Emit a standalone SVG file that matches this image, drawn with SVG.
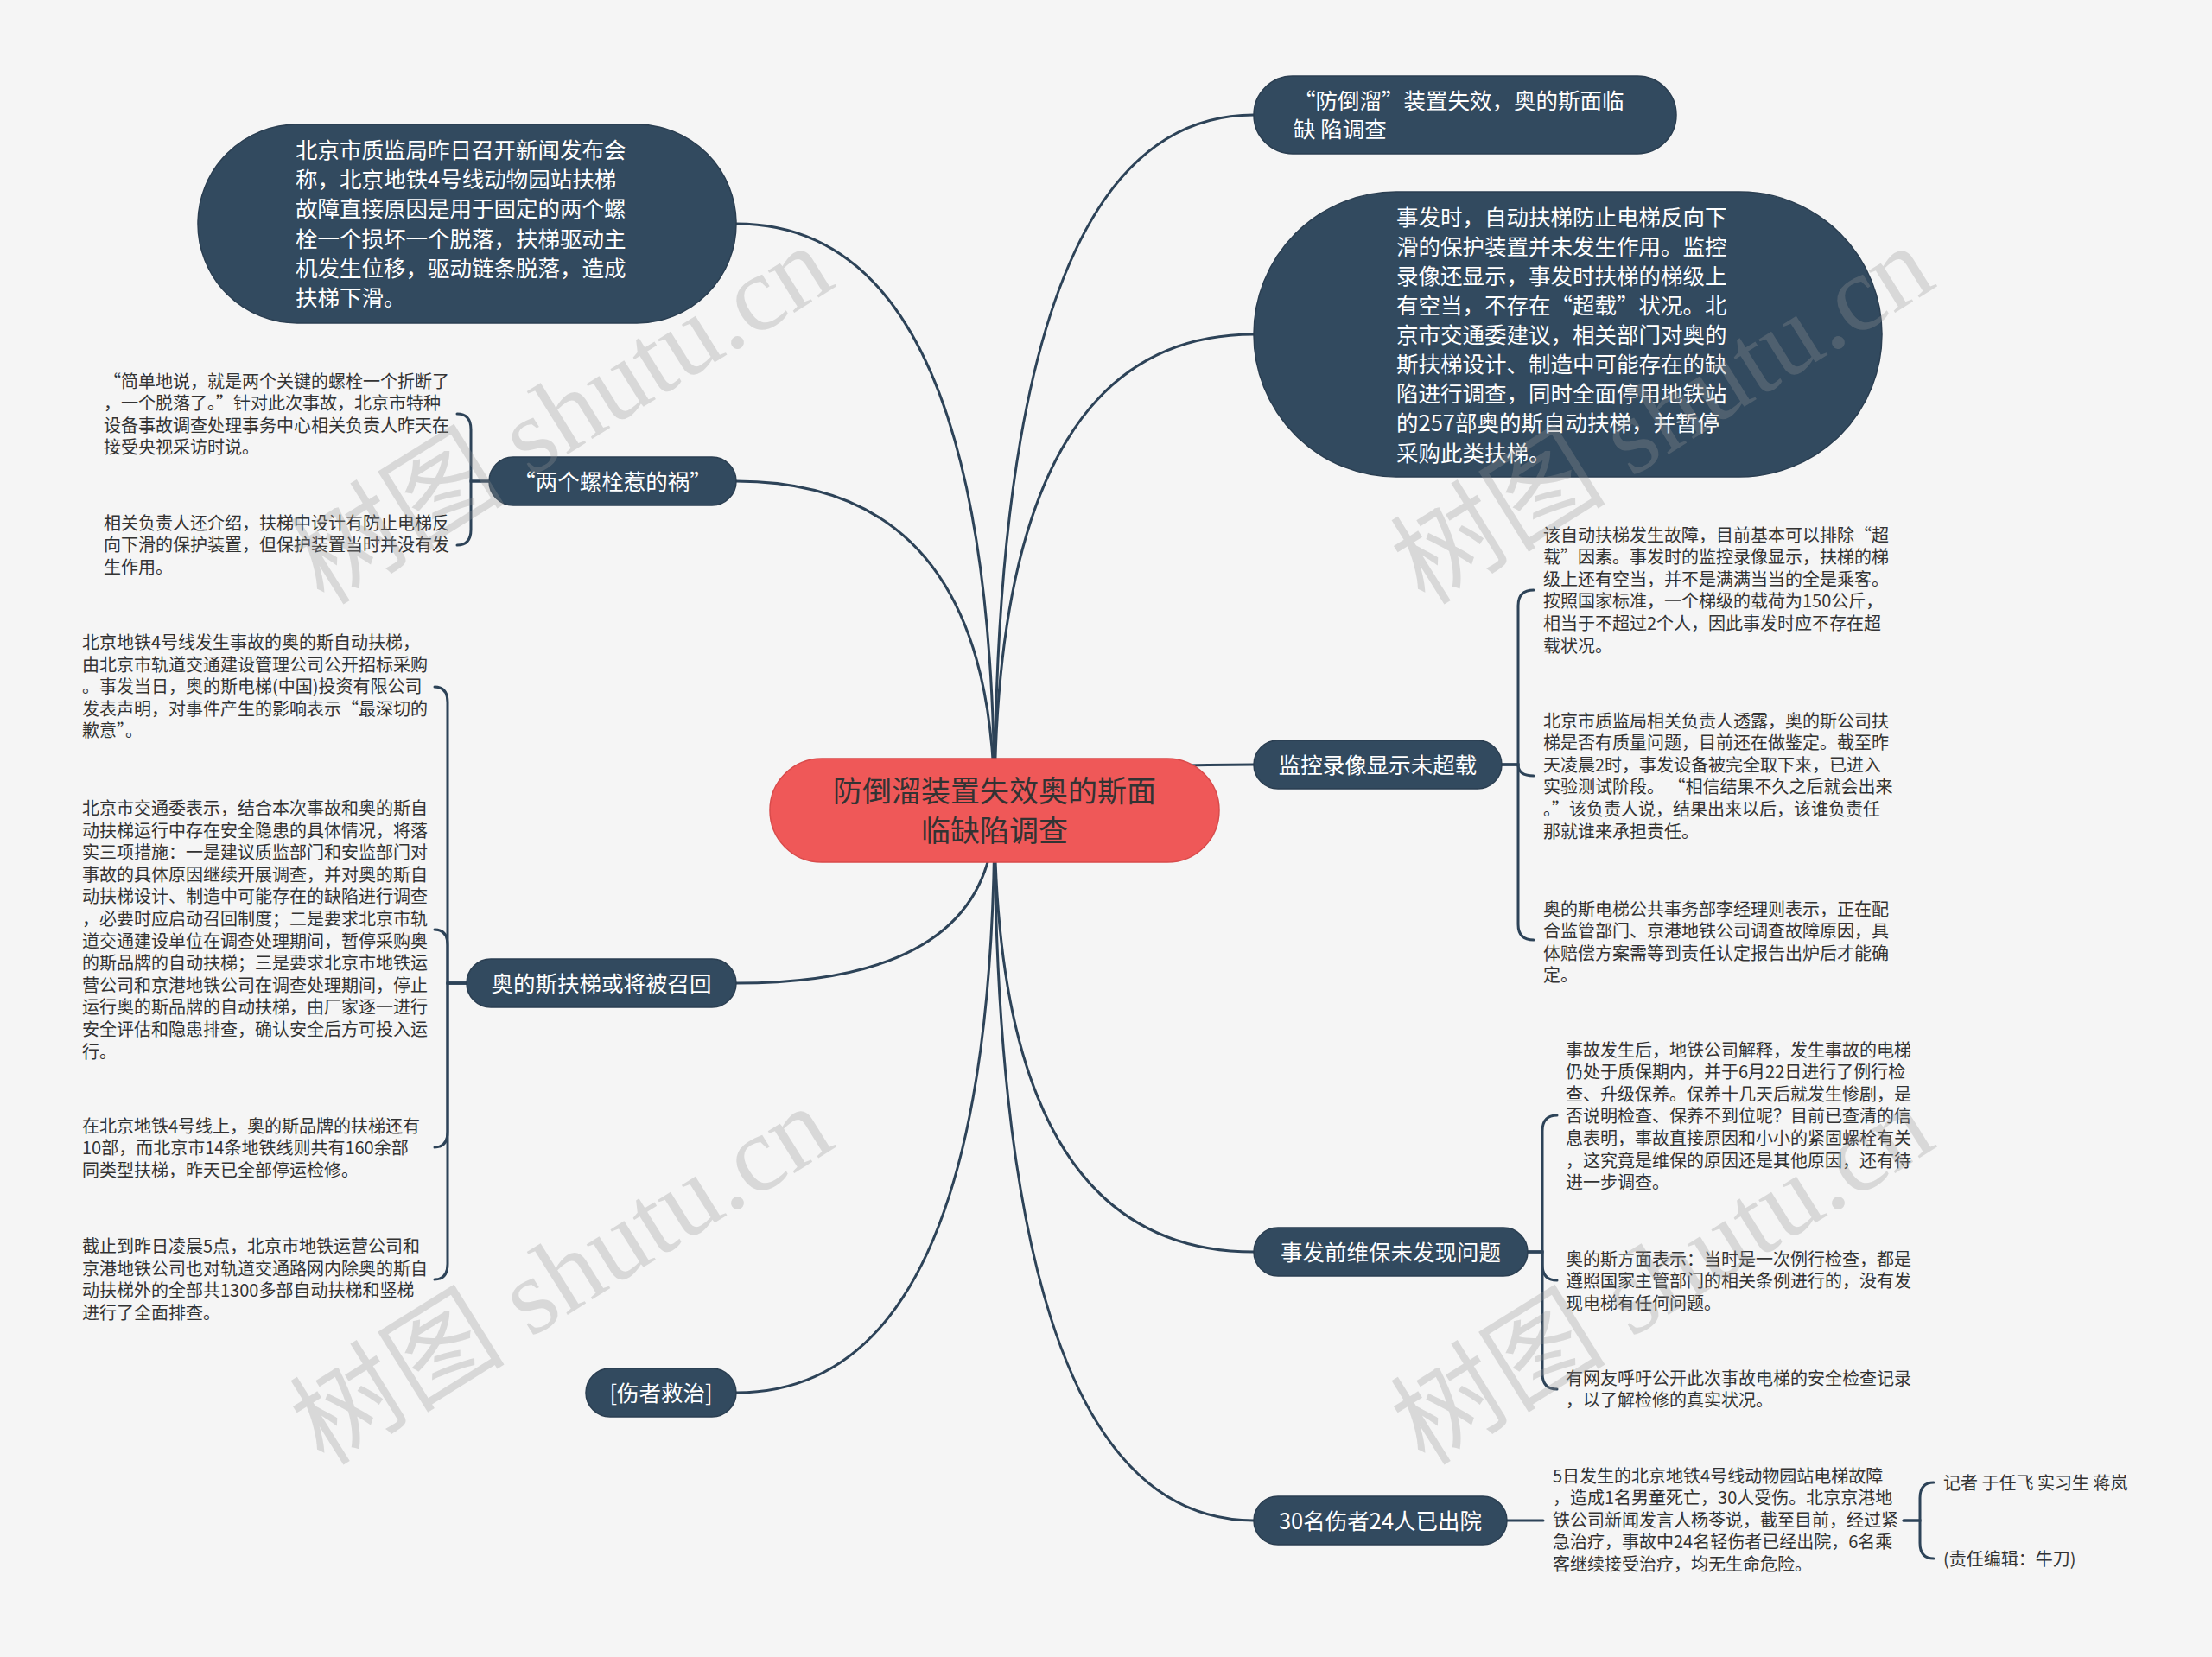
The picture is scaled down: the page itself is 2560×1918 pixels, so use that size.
<svg xmlns="http://www.w3.org/2000/svg" width="2560" height="1918" viewBox="0 0 2560 1918">
<style>
.bg{fill:#f5f5f5}
.pill{fill:#324a5f;stroke:#2a3e51;stroke-width:1.5}
.root{fill:#ef5858;stroke:#d94a4a;stroke-width:1.5}
.conn{fill:none;stroke:#2d4358;stroke-width:3;stroke-linecap:round}
.pt{font-family:"Noto Sans CJK SC","Liberation Sans",sans-serif;font-size:25.5px;fill:#ffffff}
.rt{font-family:"Noto Sans CJK SC","Liberation Sans",sans-serif;font-size:34px;fill:#333333;text-anchor:middle}
.lf{font-family:"Noto Sans CJK SC","Liberation Sans",sans-serif;font-size:20px;fill:#333333}
.mid{text-anchor:middle}
.wm{font-family:"Liberation Serif","Noto Sans CJK SC",serif;font-size:125px;fill:#969696;fill-opacity:0.3}
</style>
<rect class="bg" x="0" y="0" width="2560" height="1918"/>

<g id="connectors">
<path class="conn" d="M1151,938 Q1151,133 1451,133"/>
<path class="conn" d="M1151,938 Q1151,387 1451,387"/>
<path class="conn" d="M1151,938 Q1151,885 1451,885"/>
<path class="conn" d="M1151,938 Q1151,1449 1451,1449"/>
<path class="conn" d="M1151,938 Q1151,1760 1451,1760"/>
<path class="conn" d="M1151,938 Q1151,259 852,259"/>
<path class="conn" d="M1151,938 Q1151,557 852,557"/>
<path class="conn" d="M1151,938 Q1151,1138 852,1138"/>
<path class="conn" d="M1151,938 Q1151,1612 852,1612"/>
<path class="conn" d="M566,557 H545 V497 Q545,479 529,479"/>
<path class="conn" d="M566,557 H545 V613 Q545,631 529,631"/>
<path class="conn" d="M540,1138 H518 V813 Q518,795 503,795"/>
<path class="conn" d="M540,1138 H518 V1094 Q518,1076 503,1076"/>
<path class="conn" d="M540,1138 H518 V1310 Q518,1328 503,1328"/>
<path class="conn" d="M540,1138 H518 V1463 Q518,1481 503,1481"/>
<path class="conn" d="M1738,885 H1757 V701 Q1757,683 1775,683"/>
<path class="conn" d="M1738,885 H1757 Q1757,898 1775,898"/>
<path class="conn" d="M1738,885 H1757 V1070 Q1757,1088 1775,1088"/>
<path class="conn" d="M1768,1449 H1785 V1309 Q1785,1291 1802,1291"/>
<path class="conn" d="M1768,1449 H1785 V1464 Q1785,1482 1802,1482"/>
<path class="conn" d="M1768,1449 H1785 V1590 Q1785,1608 1802,1608"/>
<path class="conn" d="M1744,1760 H1786"/>
<path class="conn" d="M2203,1760 H2222 V1734 Q2222,1716 2238,1716"/>
<path class="conn" d="M2203,1760 H2222 V1786 Q2222,1804 2238,1804"/>
</g>

<g id="root">
<rect class="root" x="891" y="878" width="520" height="120" rx="60"/>
<text class="rt"><tspan x="1151" y="927.9">防倒溜装置失效奥的斯面</tspan><tspan x="1151" y="973.9">临缺陷调查</tspan></text>
</g>

<g id="n-top-right">
<rect class="pill" x="1451" y="88" width="489" height="90" rx="45"/>
<text class="pt"><tspan x="1497" y="125.7">“防倒溜”装置失效，奥的斯面临</tspan><tspan x="1497" y="158.7">缺 陷调查</tspan></text>
</g>

<g id="n-right-big">
<rect class="pill" x="1451" y="222" width="727" height="330" rx="165"/>
<text class="pt">
<tspan x="1616" y="260.7">事发时，自动扶梯防止电梯反向下</tspan>
<tspan x="1616" y="294.8">滑的保护装置并未发生作用。监控</tspan>
<tspan x="1616" y="328.9">录像还显示，事发时扶梯的梯级上</tspan>
<tspan x="1616" y="363">有空当，不存在“超载”状况。北</tspan>
<tspan x="1616" y="397.1">京市交通委建议，相关部门对奥的</tspan>
<tspan x="1616" y="431.2">斯扶梯设计、制造中可能存在的缺</tspan>
<tspan x="1616" y="465.3">陷进行调查，同时全面停用地铁站</tspan>
<tspan x="1616" y="499.4">的257部奥的斯自动扶梯，并暂停</tspan>
<tspan x="1616" y="533.5">采购此类扶梯。</tspan>
</text>
</g>

<g id="n-left-big">
<rect class="pill" x="229" y="144" width="623" height="230" rx="115"/>
<text class="pt">
<tspan x="342" y="182.7">北京市质监局昨日召开新闻发布会</tspan>
<tspan x="342" y="217">称，北京地铁4号线动物园站扶梯</tspan>
<tspan x="342" y="251.3">故障直接原因是用于固定的两个螺</tspan>
<tspan x="342" y="285.6">栓一个损坏一个脱落，扶梯驱动主</tspan>
<tspan x="342" y="319.9">机发生位移，驱动链条脱落，造成</tspan>
<tspan x="342" y="354.2">扶梯下滑。</tspan>
</text>
</g>

<g id="n-bolts">
<rect class="pill" x="566" y="529" width="286" height="56" rx="28"/>
<text class="pt mid" x="709" y="566.7">“两个螺栓惹的祸”</text>
</g>
<g id="l-bolts-1">
<text class="lf">
<tspan x="120" y="448.6">“简单地说，就是两个关键的螺栓一个折断了</tspan>
<tspan x="120" y="474.2">，一个脱落了。”针对此次事故，北京市特种</tspan>
<tspan x="120" y="499.8">设备事故调查处理事务中心相关负责人昨天在</tspan>
<tspan x="120" y="525.4">接受央视采访时说。</tspan>
</text>
</g>
<g id="l-bolts-2">
<text class="lf">
<tspan x="120" y="612.6">相关负责人还介绍，扶梯中设计有防止电梯反</tspan>
<tspan x="120" y="638.2">向下滑的保护装置，但保护装置当时并没有发</tspan>
<tspan x="120" y="663.8">生作用。</tspan>
</text>
</g>

<g id="n-recall">
<rect class="pill" x="540" y="1110" width="312" height="56" rx="28"/>
<text class="pt mid" x="696" y="1147.7">奥的斯扶梯或将被召回</text>
</g>
<g id="l-recall-1">
<text class="lf">
<tspan x="95" y="751">北京地铁4号线发生事故的奥的斯自动扶梯，</tspan>
<tspan x="95" y="776.6">由北京市轨道交通建设管理公司公开招标采购</tspan>
<tspan x="95" y="802.2">。事发当日，奥的斯电梯(中国)投资有限公司</tspan>
<tspan x="95" y="827.8">发表声明，对事件产生的影响表示“最深切的</tspan>
<tspan x="95" y="853.4">歉意”。</tspan>
</text>
</g>
<g id="l-recall-2">
<text class="lf">
<tspan x="95" y="943">北京市交通委表示，结合本次事故和奥的斯自</tspan>
<tspan x="95" y="968.6">动扶梯运行中存在安全隐患的具体情况，将落</tspan>
<tspan x="95" y="994.2">实三项措施：一是建议质监部门和安监部门对</tspan>
<tspan x="95" y="1019.8">事故的具体原因继续开展调查，并对奥的斯自</tspan>
<tspan x="95" y="1045.4">动扶梯设计、制造中可能存在的缺陷进行调查</tspan>
<tspan x="95" y="1071">，必要时应启动召回制度；二是要求北京市轨</tspan>
<tspan x="95" y="1096.6">道交通建设单位在调查处理期间，暂停采购奥</tspan>
<tspan x="95" y="1122.2">的斯品牌的自动扶梯；三是要求北京市地铁运</tspan>
<tspan x="95" y="1147.8">营公司和京港地铁公司在调查处理期间，停止</tspan>
<tspan x="95" y="1173.4">运行奥的斯品牌的自动扶梯，由厂家逐一进行</tspan>
<tspan x="95" y="1199">安全评估和隐患排查，确认安全后方可投入运</tspan>
<tspan x="95" y="1224.6">行。</tspan>
</text>
</g>
<g id="l-recall-3">
<text class="lf">
<tspan x="95" y="1310.6">在北京地铁4号线上，奥的斯品牌的扶梯还有</tspan>
<tspan x="95" y="1336.2">10部，而北京市14条地铁线则共有160余部</tspan>
<tspan x="95" y="1361.8">同类型扶梯，昨天已全部停运检修。</tspan>
</text>
</g>
<g id="l-recall-4">
<text class="lf">
<tspan x="95" y="1450">截止到昨日凌晨5点，北京市地铁运营公司和</tspan>
<tspan x="95" y="1475.6">京港地铁公司也对轨道交通路网内除奥的斯自</tspan>
<tspan x="95" y="1501.2">动扶梯外的全部共1300多部自动扶梯和竖梯</tspan>
<tspan x="95" y="1526.8">进行了全面排查。</tspan>
</text>
</g>

<g id="n-rescue">
<rect class="pill" x="678" y="1584" width="174" height="56" rx="28"/>
<text class="pt mid" x="765" y="1621.7">[伤者救治]</text>
</g>

<g id="n-monitor">
<rect class="pill" x="1451" y="857" width="287" height="56" rx="28"/>
<text class="pt mid" x="1594.5" y="894.7">监控录像显示未超载</text>
</g>
<g id="l-monitor-1">
<text class="lf">
<tspan x="1786" y="626.6">该自动扶梯发生故障，目前基本可以排除“超</tspan>
<tspan x="1786" y="652.2">载”因素。事发时的监控录像显示，扶梯的梯</tspan>
<tspan x="1786" y="677.8">级上还有空当，并不是满满当当的全是乘客。</tspan>
<tspan x="1786" y="703.4">按照国家标准，一个梯级的载荷为150公斤，</tspan>
<tspan x="1786" y="729">相当于不超过2个人，因此事发时应不存在超</tspan>
<tspan x="1786" y="754.6">载状况。</tspan>
</text>
</g>
<g id="l-monitor-2">
<text class="lf">
<tspan x="1786" y="841.6">北京市质监局相关负责人透露，奥的斯公司扶</tspan>
<tspan x="1786" y="867.2">梯是否有质量问题，目前还在做鉴定。截至昨</tspan>
<tspan x="1786" y="892.8">天凌晨2时，事发设备被完全取下来，已进入</tspan>
<tspan x="1786" y="918.4">实验测试阶段。 “相信结果不久之后就会出来</tspan>
<tspan x="1786" y="944">。”该负责人说，结果出来以后，该谁负责任</tspan>
<tspan x="1786" y="969.6">那就谁来承担责任。</tspan>
</text>
</g>
<g id="l-monitor-3">
<text class="lf">
<tspan x="1786" y="1059.6">奥的斯电梯公共事务部李经理则表示，正在配</tspan>
<tspan x="1786" y="1085.2">合监管部门、京港地铁公司调查故障原因，具</tspan>
<tspan x="1786" y="1110.8">体赔偿方案需等到责任认定报告出炉后才能确</tspan>
<tspan x="1786" y="1136.4">定。</tspan>
</text>
</g>

<g id="n-maint">
<rect class="pill" x="1451" y="1421" width="317" height="56" rx="28"/>
<text class="pt mid" x="1609.5" y="1458.7">事发前维保未发现问题</text>
</g>
<g id="l-maint-1">
<text class="lf">
<tspan x="1812" y="1222.6">事故发生后，地铁公司解释，发生事故的电梯</tspan>
<tspan x="1812" y="1248.2">仍处于质保期内，并于6月22日进行了例行检</tspan>
<tspan x="1812" y="1273.8">查、升级保养。保养十几天后就发生惨剧，是</tspan>
<tspan x="1812" y="1299.4">否说明检查、保养不到位呢？目前已查清的信</tspan>
<tspan x="1812" y="1325">息表明，事故直接原因和小小的紧固螺栓有关</tspan>
<tspan x="1812" y="1350.6">，这究竟是维保的原因还是其他原因，还有待</tspan>
<tspan x="1812" y="1376.2">进一步调查。</tspan>
</text>
</g>
<g id="l-maint-2">
<text class="lf">
<tspan x="1812" y="1464.6">奥的斯方面表示：当时是一次例行检查，都是</tspan>
<tspan x="1812" y="1490.2">遵照国家主管部门的相关条例进行的，没有发</tspan>
<tspan x="1812" y="1515.8">现电梯有任何问题。</tspan>
</text>
</g>
<g id="l-maint-3">
<text class="lf">
<tspan x="1812" y="1602.6">有网友呼吁公开此次事故电梯的安全检查记录</tspan>
<tspan x="1812" y="1628.2">，以了解检修的真实状况。</tspan>
</text>
</g>

<g id="n-injured">
<rect class="pill" x="1451" y="1732" width="293" height="56" rx="28"/>
<text class="pt mid" x="1597.5" y="1769.7">30名伤者24人已出院</text>
</g>
<g id="l-injured-1">
<text class="lf">
<tspan x="1797" y="1715.6">5日发生的北京地铁4号线动物园站电梯故障</tspan>
<tspan x="1797" y="1741.2">，造成1名男童死亡，30人受伤。北京京港地</tspan>
<tspan x="1797" y="1766.8">铁公司新闻发言人杨苓说，截至目前，经过紧</tspan>
<tspan x="1797" y="1792.4">急治疗，事故中24名轻伤者已经出院，6名乘</tspan>
<tspan x="1797" y="1818">客继续接受治疗，均无生命危险。</tspan>
</text>
</g>
<g id="l-injured-2"><text class="lf" x="2249" y="1723.6">记者 于任飞 实习生 蒋岚</text></g>
<g id="l-injured-3"><text class="lf" x="2249" y="1811.6">(责任编辑：牛刀)</text></g>

<g id="watermarks">
<text class="wm" transform="translate(375,702) rotate(-32)">树图 shutu.cn</text>
<text class="wm" transform="translate(1649,702) rotate(-32)">树图 shutu.cn</text>
<text class="wm" transform="translate(375,1698) rotate(-32)">树图 shutu.cn</text>
<text class="wm" transform="translate(1649,1698) rotate(-32)">树图 shutu.cn</text>
</g>
</svg>
